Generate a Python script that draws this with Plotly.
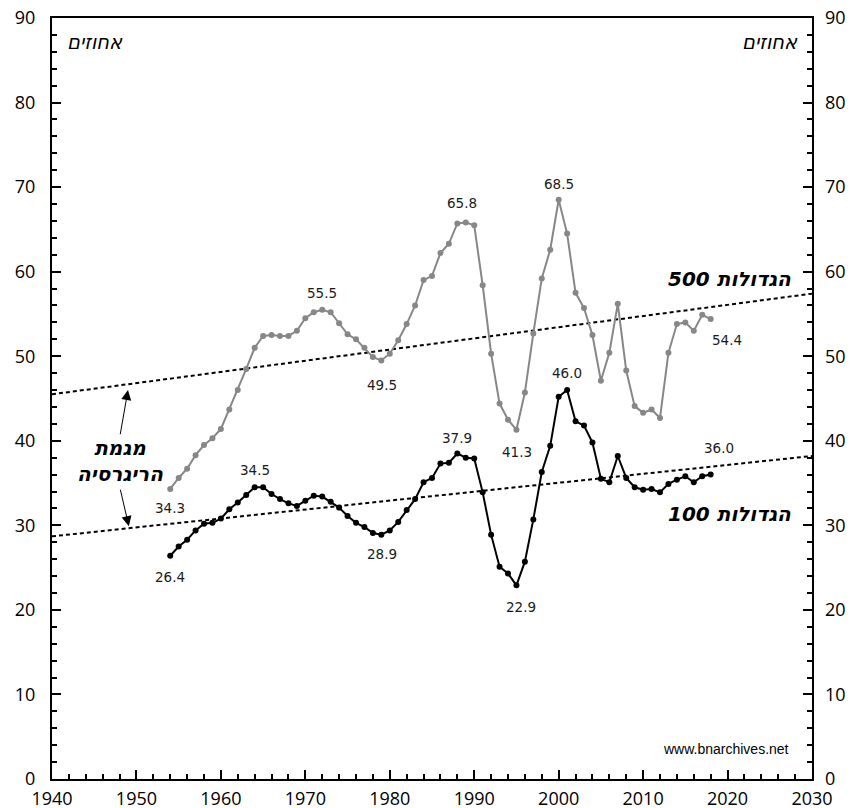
import plotly.graph_objects as go

# ---- data ----
years = list(range(1954, 2019))
top500 = [34.3, 35.6, 36.7, 38.3, 39.5, 40.3, 41.4, 43.7, 46.0, 48.5,
          51.0, 52.4, 52.5, 52.4, 52.4, 53.0, 54.5, 55.2, 55.5, 55.2,
          53.9, 52.6, 52.0, 51.0, 49.9, 49.5, 50.3, 51.9, 53.8, 56.0,
          59.0, 59.5, 62.2, 63.3, 65.7, 65.8, 65.5, 58.4, 50.3, 44.4,
          42.5, 41.3, 45.7, 52.7, 59.2, 62.6, 68.5, 64.5, 57.5, 55.7,
          52.5, 47.1, 50.4, 56.2, 48.3, 44.1, 43.3, 43.7, 42.7, 50.4,
          53.8, 54.0, 53.0, 54.9, 54.4]
top100 = [26.4, 27.5, 28.3, 29.4, 30.2, 30.3, 30.8, 31.9, 32.7, 33.6,
          34.5, 34.5, 33.7, 33.1, 32.6, 32.3, 32.9, 33.5, 33.4, 32.8,
          32.1, 31.1, 30.3, 29.8, 29.1, 28.9, 29.4, 30.4, 31.8, 33.1,
          35.1, 35.6, 37.3, 37.4, 38.5, 38.0, 37.9, 33.9, 28.9, 25.1,
          24.3, 22.9, 25.7, 30.7, 36.3, 39.4, 45.2, 46.0, 42.3, 41.8,
          39.8, 35.5, 35.1, 38.2, 35.6, 34.5, 34.2, 34.3, 33.9, 34.9,
          35.4, 35.8, 35.1, 35.8, 36.0]
trend_years = [1940, 2030]
trend500 = [45.5, 57.4]
trend100 = [28.7, 38.2]

# value labels: (text, x, y)
value_labels = [
    ("34.3", 1953.97, 32.08), ("55.5", 1972.01, 57.51), ("49.5", 1979.05, 46.59),
    ("65.8", 1988.52, 68.08), ("41.3", 1995.03, 38.71), ("68.5", 2000.04, 70.31),
    ("54.4", 2019.90, 51.92),
    ("26.4", 1953.97, 23.92), ("34.5", 1964.04, 36.54), ("28.9", 1979.05, 26.61),
    ("37.9", 1988.00, 40.29), ("22.9", 1995.50, 20.38), ("46.0", 2001.03, 47.98),
    ("36.0", 2019.03, 39.11),
]

GRAY = "#878787"
fig = go.Figure()
dash = "4px,3px"
fig.add_trace(go.Scatter(x=trend_years, y=trend500, mode="lines",
                         line=dict(color="black", width=2, dash=dash),
                         showlegend=False, hoverinfo="skip"))
fig.add_trace(go.Scatter(x=trend_years, y=trend100, mode="lines",
                         line=dict(color="black", width=2, dash=dash),
                         showlegend=False, hoverinfo="skip"))
fig.add_trace(go.Scatter(x=years, y=top500, mode="lines+markers",
                         line=dict(color=GRAY, width=2),
                         marker=dict(size=6, color=GRAY),
                         showlegend=False))
fig.add_trace(go.Scatter(x=years, y=top100, mode="lines+markers",
                         line=dict(color="black", width=2),
                         marker=dict(size=6, color="black"),
                         showlegend=False))
# invisible trace to activate the right axis
fig.add_trace(go.Scatter(x=[1940], y=[0], yaxis="y2", mode="markers",
                         marker=dict(opacity=0), showlegend=False,
                         hoverinfo="skip"))

tickfont = dict(family="Open Sans", size=18, color="black")
minor_y = dict(dtick=2, ticks="inside", ticklen=5, tickwidth=1.5, tickcolor="black")

# page body has an 8px default margin: compensate in the figure margins
fig.update_layout(
    width=853, height=808,
    margin=dict(l=44, r=49, t=10, b=37, autoexpand=False),
    paper_bgcolor="white", plot_bgcolor="white",
    xaxis=dict(range=[1940, 2030], tick0=1940, dtick=10, ticks="inside",
               ticklen=9, tickwidth=1.5, tickcolor="black",
               minor=dict(dtick=2, ticks="inside", ticklen=5, tickwidth=1.5,
                          tickcolor="black"),
               showline=True, linewidth=2, linecolor="black", mirror=True,
               showgrid=False, zeroline=False, tickfont=tickfont,
               ticklabelstandoff=2, automargin=False,
               ticklabeloverflow="allow"),
    yaxis=dict(range=[0, 90], tick0=0, dtick=10, ticks="inside",
               ticklen=9, tickwidth=1.5, tickcolor="black", minor=minor_y,
               showline=True, linewidth=2, linecolor="black", mirror=True,
               showgrid=False, zeroline=False, tickfont=tickfont,
               ticklabelstandoff=11, automargin=False,
               ticklabeloverflow="allow"),
    yaxis2=dict(range=[0, 90], tick0=0, dtick=10, ticks="inside",
                ticklen=9, tickwidth=1.5, tickcolor="black", minor=minor_y,
                overlaying="y", side="right", anchor="x",
                showline=False, showgrid=False, zeroline=False,
                tickfont=tickfont, ticklabelstandoff=12, automargin=False,
                ticklabeloverflow="allow"),
)

ann = []
for txt, x, y in value_labels:
    ann.append(dict(x=x, y=y, text=txt, showarrow=False, xref="x", yref="y",
                    font=dict(family="DejaVu Sans", size=13.5, color="#1a1a1a"),
                    xanchor="center", yanchor="middle"))

heb_bold = dict(family="DejaVu Sans", size=20, color="black")
ann.append(dict(x=2020.2, y=59.13, text="<b><i>הגדולות 500</i></b>",
                showarrow=False, font=heb_bold, xanchor="center", yanchor="middle"))
ann.append(dict(x=2020.2, y=31.34, text="<b><i>הגדולות 100</i></b>",
                showarrow=False, font=heb_bold, xanchor="center", yanchor="middle"))
heb_it = dict(family="DejaVu Sans", size=19.5, color="black")
ann.append(dict(x=1945.15, y=87.16, text="<i>אחוזים</i>", showarrow=False,
                font=heb_it, xanchor="center", yanchor="middle"))
ann.append(dict(x=2024.97, y=87.16, text="<i>אחוזים</i>", showarrow=False,
                font=heb_it, xanchor="center", yanchor="middle"))
ann.append(dict(x=1948.05, y=37.6, text="<b><i>מגמת<br>הריגרסיה</i></b>",
                showarrow=False, font=dict(family="DejaVu Sans", size=20, color="black"),
                xanchor="center", yanchor="middle", align="center"))
# arrows
ann.append(dict(x=1949.0, y=46.0, ax=1948.05, ay=40.6, axref="x", ayref="y",
                xref="x", yref="y", text="", showarrow=True, arrowhead=2,
                arrowsize=2, arrowwidth=1, arrowcolor="black"))
ann.append(dict(x=1949.1, y=29.9, ax=1948.05, ay=34.4, axref="x", ayref="y",
                xref="x", yref="y", text="", showarrow=True, arrowhead=2,
                arrowsize=2, arrowwidth=1, arrowcolor="black"))
ann.append(dict(x=2027.5, y=3.6, text="www.bnarchives.net", showarrow=False,
                font=dict(family="Liberation Sans", size=14, color="black"),
                xanchor="right", yanchor="middle"))
fig.update_layout(annotations=ann)

fig.write_html("out.html")
